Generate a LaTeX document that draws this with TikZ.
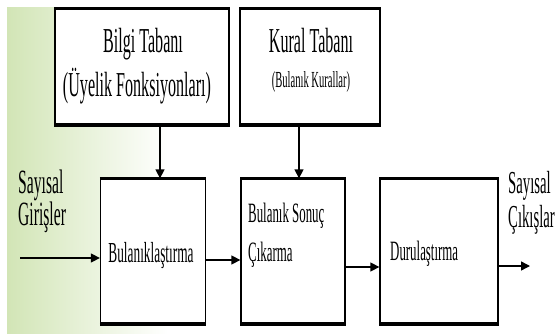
\documentclass[tikz,border=0pt]{standalone}
\usepackage{fontspec}
\setmainfont{Liberation Serif}[FakeStretch=0.46]
\usetikzlibrary{arrows.meta}
\definecolor{bgg}{RGB}{210,229,182}
\begin{document}
\begin{tikzpicture}[x=1pt,y=-1pt,
  box/.style={draw=black, line width=1.3pt, fill=white, inner sep=0pt},
  arr/.style={line width=1.4pt, -{Triangle[length=9pt,width=9pt]}},
  lbl/.style={inner sep=0pt, text=black},
  thickbot/.style={line width=3pt},
  thicktop/.style={line width=2.2pt}
]
\useasboundingbox (0,0) rectangle (556,334);
\fill[white] (0,0) rectangle (556,334);
\shade[left color=bgg, right color=white] (7,8) rectangle (168,334);

% boxes
\node[box, minimum width=174pt, minimum height=115pt] (b1) at (142,66.5) {};
\node[box, minimum width=140pt, minimum height=115pt] (b2) at (310,66.5) {};
\node[box, minimum width=105pt, minimum height=144pt] (b3) at (153,251) {};
\node[box, minimum width=104pt, minimum height=144pt] (b4) at (293,251) {};
\node[box, minimum width=118pt, minimum height=144pt] (b5) at (439,251) {};
\foreach \b in {b1,b2,b3,b4,b5}{
  \draw[thicktop] (\b.north west) -- (\b.north east);
  \draw[thickbot] ([yshift=-0.5pt]\b.south west) -- ([yshift=-0.5pt]\b.south east);
}

% texts
\node[lbl, anchor=base, font=\fontsize{35}{35}\selectfont] (t1a) at (143,53) {Bilgi Tabanı};
\node[lbl, anchor=base, font=\fontsize{35}{35}\selectfont] (t1b) at (137,97) {(Üyelik Fonksiyonları)};
\node[lbl, anchor=base, font=\fontsize{35}{35}\selectfont] (t2a) at (311,53) {Kural Tabanı};
\node[lbl, anchor=base, font=\fontsize{23}{23}\selectfont] (t2b) at (311,88) {(Bulanık Kurallar)};
\node[lbl, anchor=base, font=\fontsize{29}{29}\selectfont] (t3) at (151,262) {Bulanıklaştırma};
\node[lbl, anchor=base west, font=\fontsize{28}{28}\selectfont] (t4a) at (248,222) {Bulanık Sonuç};
\node[lbl, anchor=base west, font=\fontsize{28}{28}\selectfont] (t4b) at (248,261) {Çıkarma};
\node[lbl, anchor=base west, font=\fontsize{28}{28}\selectfont] (t5) at (390,260) {Durulaştırma};
\node[lbl, anchor=base west, font=\fontsize{34}{34}\selectfont] (in1) at (18,193) {Sayısal};
\node[lbl, anchor=base west, font=\fontsize{34}{34}\selectfont] (in2) at (18,225) {Girişler};
\node[lbl, anchor=base west, font=\fontsize{32}{32}\selectfont] (out1) at (508,193) {Sayısal};
\node[lbl, anchor=base west, font=\fontsize{32}{32}\selectfont] (out2) at (508,227) {Çıkışlar};

% arrows
\coordinate (inS) at (20,258);
\coordinate (outE) at (530,266);
\coordinate (d1) at ([xshift=7pt]b3.north);
\coordinate (d2) at ([xshift=6pt]b4.north);
\draw[arr] (inS) -- (inS -| b3.west);
\draw[arr] ([yshift=-9pt]b3.east) -- ([yshift=-9pt]b4.west);
\draw[arr] ([yshift=-16pt]b4.east) -- ([yshift=-16pt]b5.west);
\draw[arr] (b5.east |- outE) -- (outE);
\draw[arr] (d1 |- b1.south) -- (d1);
\draw[arr] (d2 |- b2.south) -- (d2);
\end{tikzpicture}
\end{document}
